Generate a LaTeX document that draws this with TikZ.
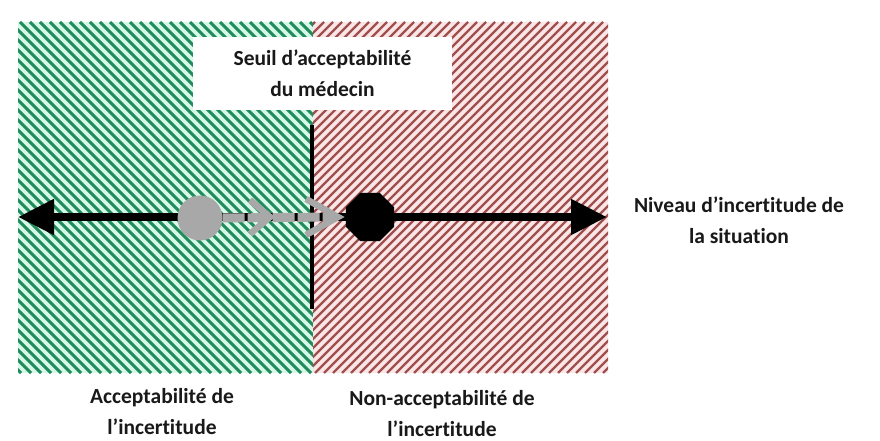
\documentclass[tikz,border=0pt]{standalone}
\usepackage{fontspec}
\setmainfont{Carlito}[Ligatures=NoCommon]
\usetikzlibrary{arrows.meta,shapes.geometric}
\definecolor{hgreen}{RGB}{32,140,92}
\definecolor{hmint}{RGB}{214,248,232}
\definecolor{hred}{RGB}{160,78,78}
\definecolor{hpink}{RGB}{250,230,230}
\definecolor{ggray}{RGB}{168,168,168}
\definecolor{txt}{RGB}{25,25,25}
\tikzset{
  lbl/.style={font=\bfseries\fontsize{21.5}{31}\selectfont, text=txt, align=center, inner sep=0pt},
  chev/.style={draw=ggray, line width=6.5pt, line cap=butt, line join=miter},
}
\begin{document}
\begin{tikzpicture}[x=1pt,y=-1pt]
\useasboundingbox[fill=white] (0,0) rectangle (880,441);
% green hatched zone
\begin{scope}
\clip (18,22) rectangle (313,373);
\fill[hmint] (18,22) rectangle (313,373);
\foreach \i in {-340,-330,...,320}{
  \draw[hgreen, line width=3pt] (\i,22) -- ++(351,351);
}
\end{scope}
% red hatched zone
\begin{scope}
\clip (313,22) rectangle (608,373);
\fill[hpink] (313,22) rectangle (608,373);
\foreach \i in {-45,-36,...,620}{
  \draw[hred, line width=2.2pt] (\i,373) -- ++(351,-351);
}
\end{scope}
% threshold box
\node[fill=white, minimum width=259pt, minimum height=73pt, inner sep=0pt] (box) at (322.5,73.5) {};
\node[lbl] (seuil) at (box.center) {Seuil d’acceptabilité\\du médecin};
% vertical threshold line
\coordinate (vt) at (312,125);
\coordinate (vb) at (312,309);
\draw[black, line width=4pt] (vt) -- (vb);
% main axis
\coordinate (al) at (18,217);
\coordinate (ar) at (607,217);
\draw[black, line width=8pt, {Triangle[length=36pt,width=34pt]}-{Triangle[length=36pt,width=34pt]}] (al) -- (ar);
% gray movement arrow
\node[circle, fill=ggray, minimum size=45pt, inner sep=0pt] (start) at (200,218) {};
\node[regular polygon, regular polygon sides=8, fill=black, minimum size=52pt, inner sep=0pt] (end) at (370,217) {};
\coordinate (g1) at (start.east);
\coordinate (g2) at (336,217);
\draw[ggray, line width=9pt, dash pattern=on 22pt off 3pt] (g1) -- (g2);
\coordinate (c1t) at (250,200);
\coordinate (c1m) at (270,217);
\coordinate (c1b) at (250,234);
\draw[chev] (c1t) -- (c1m) -- (c1b);
\coordinate (c2t) at (306,199);
\coordinate (c2m) at (338,217);
\coordinate (c2b) at (306,235);
\draw[chev] (c2t) -- (c2m) -- (c2b);
% labels
\node[lbl] (niveau) at (739,220) {Niveau d’incertitude de\\la situation};
\node[lbl] (accept) at (162,412) {Acceptabilité de\\l’incertitude};
\node[lbl] (nonaccept) at (442,414) {Non-acceptabilité de\\l’incertitude};
\end{tikzpicture}
\end{document}
